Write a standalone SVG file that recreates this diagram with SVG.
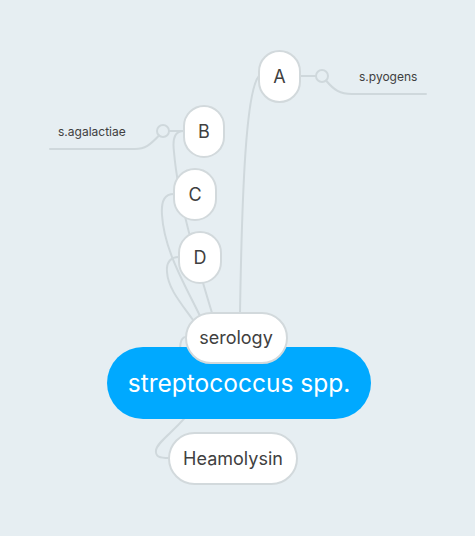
<svg xmlns="http://www.w3.org/2000/svg" width="475" height="536" viewBox="0 0 475 536">
<style>
.conn{fill:none;stroke:#cfd8dc;stroke-width:2;stroke-linecap:round}
.dot{fill:#e6eef2;stroke:#cfd8dc;stroke-width:2}
.box{fill:#ffffff;stroke:#d2d9dc;stroke-width:2}
.lbl{font-family:Inter,"Liberation Sans",sans-serif;font-size:18px;fill:#404040;text-anchor:middle}
.sm{font-family:Inter,"Liberation Sans",sans-serif;font-size:12px;fill:#404040}
</style>
<rect width="475" height="536" fill="#e6eef2"/>
<g id="connectors">
<path class="conn" d="M240 313 C242 190 246 90 259 76"/>
<path class="conn" d="M212 313 C196 260 178 200 174 152 C172 136 176 131 184 131"/>
<path class="conn" d="M200 316 C185 285 164 250 162 215 C161 200 165 194 174 194"/>
<path class="conn" d="M193 320 C180 302 168 288 167 272 C166 262 171 257 179 257"/>
<path class="conn" d="M210 380 C180 380 174 337 186 337"/>
<path class="conn" d="M195 405 C180 428 158 440 156 450 C155 457 160 458 169 458"/>
<path class="conn" d="M300 76 L316 76"/>
<circle class="dot" cx="322" cy="76" r="6"/>
<path class="conn" d="M326 80.5 C334 90 340 94 352 94 L426 94"/>
<path class="conn" d="M184 131 L169 131"/>
<circle class="dot" cx="163" cy="131" r="6"/>
<path class="conn" d="M159 135.5 C150 145 145 149 135 149 L50 149"/>
</g>
<g id="main">
<rect x="107" y="347" width="264" height="72" rx="36" fill="#00a9ff"/>
<text x="239" y="391.5" font-family="Inter,'Liberation Sans',sans-serif" font-size="24.5" fill="#ffffff" text-anchor="middle">streptococcus spp.</text>
</g>
<g id="serology">
<rect class="box" x="186" y="313" width="101" height="50" rx="25"/>
<text class="lbl" x="236" y="344">serology</text>
</g>
<g id="nodeA">
<rect class="box" x="259" y="51" width="41" height="51" rx="20.5"/>
<text class="lbl" x="279.5" y="82.5">A</text>
</g>
<g id="nodeB">
<rect class="box" x="184" y="106" width="40" height="51" rx="20"/>
<text class="lbl" x="204" y="137.5">B</text>
</g>
<g id="nodeC">
<rect class="box" x="174" y="169" width="42" height="51" rx="21"/>
<text class="lbl" x="195" y="200.5">C</text>
</g>
<g id="nodeD">
<rect class="box" x="179" y="232" width="42" height="51" rx="21"/>
<text class="lbl" x="200" y="263.5">D</text>
</g>
<g id="heamolysin">
<rect class="box" x="169" y="433" width="128" height="51" rx="25.5"/>
<text class="lbl" x="233" y="465">Heamolysin</text>
</g>
<g id="leafPyogens">
<text class="sm" x="359" y="81">s.pyogens</text>
</g>
<g id="leafAgalactiae">
<text class="sm" x="58" y="136">s.agalactiae</text>
</g>
</svg>
